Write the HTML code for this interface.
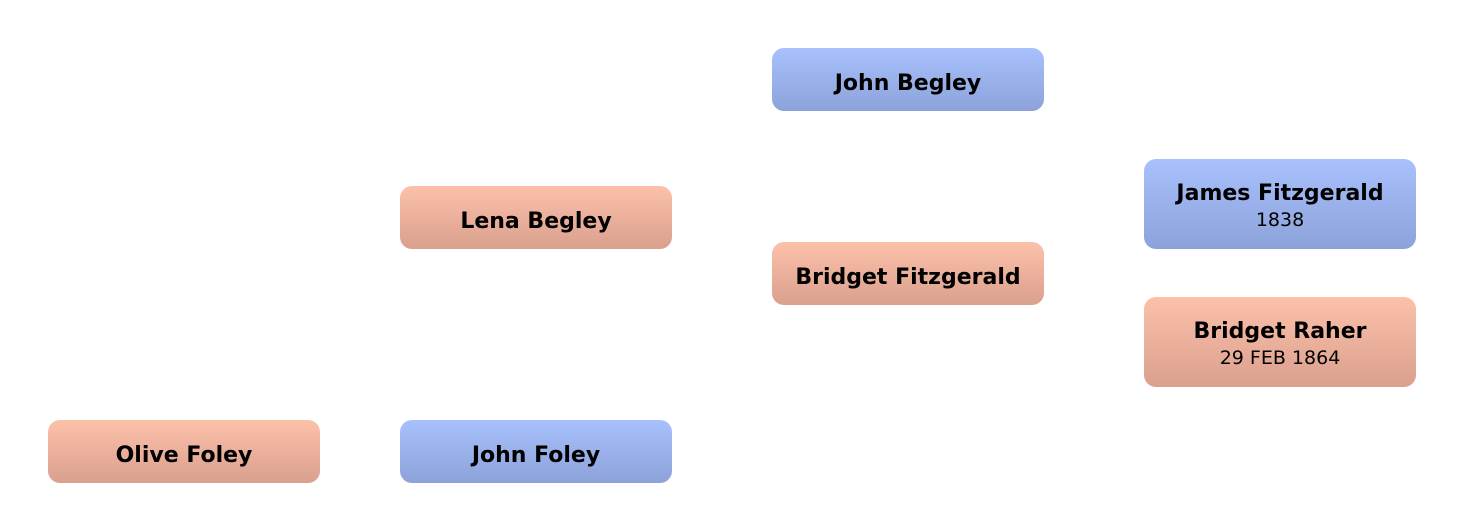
<!DOCTYPE html>
<html>
<head>
<meta charset="utf-8">
<style>
  html, body { margin:0; padding:0; background:#ffffff; }
  body { width:1464px; height:532px; position:relative; overflow:hidden; }
  .box {
    position:absolute; width:272px; border-radius:12px; box-sizing:border-box;
    text-align:center; color:#000;
    font-family:"DejaVu Sans", "Liberation Sans", sans-serif;
  }
  .blue { background:linear-gradient(to bottom, #a8c1fd 0%, #8ca2d9 100%); }
  .pink { background:linear-gradient(to bottom, #fdc1aa 0%, #d9a08e 100%); }
  .one { height:63px; padding-top:22px; }
  .one .n { font-size:22px; font-weight:bold; line-height:27px; }
  .two { height:90px; padding-top:21px; }
  .two .n { font-size:22px; font-weight:bold; line-height:27px; }
  .two .d { font-size:19px; line-height:27px; }
</style>
</head>
<body>
  <div class="box blue one" style="left:772px; top:48px;"><div class="n">John Begley</div></div>
  <div class="box pink one" style="left:400px; top:186px;"><div class="n">Lena Begley</div></div>
  <div class="box pink one" style="left:772px; top:242px;"><div class="n">Bridget Fitzgerald</div></div>
  <div class="box blue two" style="left:1144px; top:159px;"><div class="n">James Fitzgerald</div><div class="d">1838</div></div>
  <div class="box pink two" style="left:1144px; top:297px;"><div class="n">Bridget Raher</div><div class="d">29 FEB 1864</div></div>
  <div class="box pink one" style="left:48px; top:420px;"><div class="n">Olive Foley</div></div>
  <div class="box blue one" style="left:400px; top:420px;"><div class="n">John Foley</div></div>
</body>
</html>
